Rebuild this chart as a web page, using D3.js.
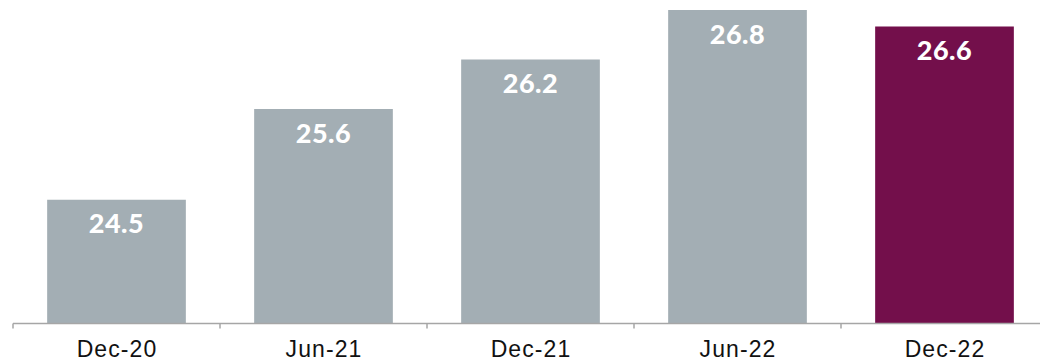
<!DOCTYPE html>
<html><head><meta charset="utf-8">
<script src="https://cdn.jsdelivr.net/npm/d3@7"></script>
<style>html,body{margin:0;padding:0;background:#fff;}svg{display:block;}</style>
</head><body>
<script>
const categories = ["Dec-20", "Jun-21", "Dec-21", "Jun-22", "Dec-22"];
const values = [24.5, 25.6, 26.2, 26.8, 26.6];
const barColors = ["#a3aeb4", "#a3aeb4", "#a3aeb4", "#a3aeb4", "#730f4b"];

const W = 1040, H = 361;
const svg = d3.select("body").append("svg").attr("width", W).attr("height", H);

const x = d3.scaleBand().domain(categories).range([13, 1048]).paddingInner(0.33).paddingOuter(0.165);
const y = d3.scaleLinear().domain([23, 26.8]).range([323.5, 10]);

svg.selectAll("rect.bar").data(values).join("rect")
  .attr("class", "bar")
  .attr("x", (d, i) => x(categories[i]))
  .attr("width", x.bandwidth())
  .attr("y", d => y(d))
  .attr("height", d => y.range()[0] - y(d))
  .attr("fill", (d, i) => barColors[i]);

svg.selectAll("text.val").data(values).join("text")
  .attr("class", "val")
  .attr("x", (d, i) => x(categories[i]) + x.bandwidth() / 2)
  .attr("y", d => y(d) + 33.5)
  .attr("text-anchor", "middle")
  .attr("fill", "#fff")
  .attr("font-family", "Lato, 'Open Sans', sans-serif")
  .attr("font-weight", 900)
  .attr("font-size", 27)
  .attr("letter-spacing", 0.5)
  .text(d => d.toFixed(1));

// axis
const axisG = svg.append("g").attr("transform", "translate(0,323.5)");
axisG.append("line").attr("x1", x.range()[0]).attr("x2", x.range()[1])
  .attr("stroke", "#a6a6a6").attr("stroke-width", 1.5);
const tickPos = categories.map(c => x(c) - x.step() * x.paddingInner() / 2);
tickPos.push(x(categories[categories.length - 1]) + x.bandwidth() + x.step() * x.paddingInner() / 2);
axisG.selectAll("line.tick").data(tickPos).join("line").attr("class", "tick")
  .attr("x1", d => d).attr("x2", d => d).attr("y1", 0).attr("y2", 5)
  .attr("stroke", "#a6a6a6").attr("stroke-width", 1.5);
axisG.selectAll("text.lab").data(categories).join("text").attr("class", "lab")
  .attr("x", d => x(d) + x.bandwidth() / 2 + 0.5)
  .attr("y", 33)
  .attr("text-anchor", "middle")
  .attr("fill", "#111")
  .attr("font-family", "'Liberation Sans', Arial, sans-serif")
  .attr("font-size", 23)
  .attr("letter-spacing", 1.1)
  .text(d => d);
</script>
</body></html>
